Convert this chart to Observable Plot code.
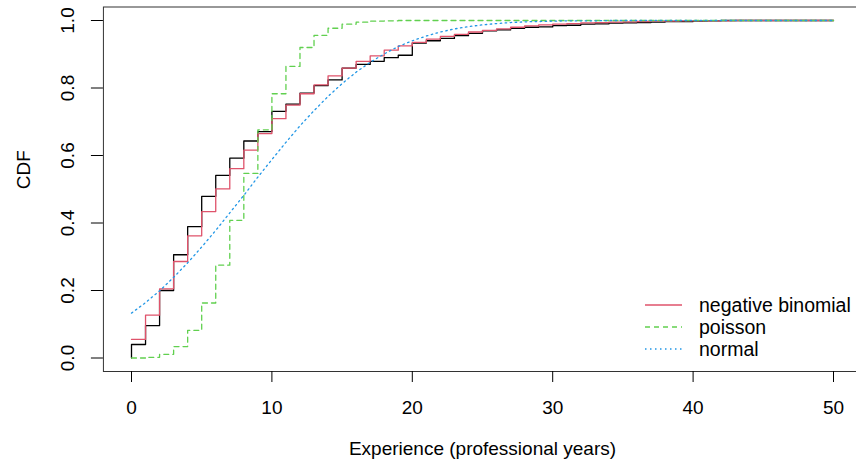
<!DOCTYPE html>
<html><head><meta charset="utf-8">
<script src="https://cdn.jsdelivr.net/npm/d3@7"></script>
<script src="https://cdn.jsdelivr.net/npm/@observablehq/plot@0.6"></script>
<style>
body{margin:0;background:#fff;overflow:hidden}
#chart{position:relative;width:856px;height:464px;overflow:hidden;background:#fff}
#chart svg{overflow:hidden}
#legend{position:absolute;left:0;top:0}
</style></head><body><div id="chart"></div>
<script>
// Experience in professional years (0..50)
const years = d3.range(0, 51);
// Empirical CDF (black steps); value left of the first jump is 0
const ecdfStart = 0;
const empirical = [0.040,0.096,0.200,0.306,0.389,0.479,0.541,0.592,0.643,0.671,
  0.731,0.752,0.785,0.807,0.824,0.859,0.870,0.879,0.890,0.897,
  0.933,0.940,0.947,0.955,0.962,0.969,0.972,0.977,0.980,0.981,
  0.985,0.986,0.989,0.990,0.992,0.993,0.994,0.995,0.997,0.997,
  0.998,0.999,1,1,1,1,1,1,1,1,1];
const negBinomial = [0.055,0.127,0.205,0.286,0.362,0.434,0.501,0.561,0.616,0.665,
  0.709,0.749,0.783,0.809,0.836,0.859,0.879,0.895,0.912,0.925,
  0.935,0.945,0.953,0.959,0.966,0.971,0.975,0.980,0.984,0.987,
  0.989,0.991,0.993,0.994,0.995,0.996,0.997,0.998,0.998,0.999,
  0.999,0.999,0.999,1,1,1,1,1,1,1,1];
const poisson = [0.000,0.002,0.011,0.034,0.082,0.163,0.275,0.408,0.547,0.676,
  0.783,0.864,0.920,0.956,0.977,0.989,0.995,0.998,0.999,1.000,
  1,1,1,1,1,1,1,1,1,1,
  1,1,1,1,1,1,1,1,1,1,
  1,1,1,1,1,1,1,1,1,1,1];
const normal = [0.133,0.164,0.199,0.239,0.282,0.329,0.378,0.430,0.482,0.536,
  0.588,0.639,0.688,0.733,0.775,0.813,0.847,0.876,0.901,0.923,
  0.940,0.954,0.966,0.975,0.982,0.987,0.991,0.994,0.996,0.997,
  0.998,0.999,0.999,0.999,1,1,1,1,1,1,
  1,1,1,1,1,1,1,1,1,1,1];

const xTicks = [0,10,20,30,40,50];
const yTicks = [0,0.2,0.4,0.6,0.8,1];
const yTickLabels = ["0.0","0.2","0.4","0.6","0.8","1.0"];
const xTitle = "Experience (professional years)";
const yTitle = "CDF";
const seriesNames = ["negative binomial","poisson","normal"];
const seriesColors = ["#DF536B","#61D04F","#2297E6"];
const seriesDash = [null,"5,4","1.5,3.5"];
const seriesCurve = ["step-after","step-after","linear"];

const FONT = "'Liberation Sans', Arial, Helvetica, sans-serif";

const blackData = [{x: years[0], y: ecdfStart}].concat(years.map((x,i)=>({x, y: empirical[i]})));
const toRows = arr => years.map((x,i)=>({x, y: arr[i]}));
const fitted = [negBinomial, poisson, normal];

const lineMarks = fitted.map((arr, k) => Plot.line(toRows(arr), {
  x: "x", y: "y", curve: seriesCurve[k],
  stroke: seriesColors[k], strokeWidth: 1.3,
  strokeDasharray: seriesDash[k] ?? undefined
}));

const plot = Plot.plot({
  width: 856, height: 464,
  marginLeft: 102.92, marginRight: -5.08, marginTop: 6.5, marginBottom: 93,
  style: {fontFamily: FONT, fontSize: "19px", color: "#000", background: "#fff", overflow: "hidden"},
  x: {domain: [-2, 52]},
  y: {domain: [-0.04, 1.04]},
  marks: [
    Plot.frame({stroke: "#333", strokeWidth: 1}),
    Plot.axisX({ticks: xTicks, tickSize: 11, tickPadding: 18, label: null, fontSize: 19}),
    Plot.axisY({ticks: yTicks, tickSize: 12, tickFormat: () => "", label: null}),
    Plot.text(yTicks, {y: d => d, text: (d,i) => yTickLabels[i], frameAnchor: "left", dx: -36,
      rotate: -90, textAnchor: "middle", lineAnchor: "middle", fontSize: 19}),
    Plot.text([xTitle], {text: d => d, frameAnchor: "bottom", dy: 77, lineAnchor: "middle", fontSize: 19}),
    Plot.text([yTitle], {text: d => d, frameAnchor: "left", dx: -80, rotate: -90, lineAnchor: "middle", fontSize: 19}),
    Plot.line(blackData, {x: "x", y: "y", curve: "step-after", stroke: "#000", strokeWidth: 1.3}),
    ...lineMarks
  ]
});
const chart = document.getElementById("chart");
chart.appendChild(plot);

// Legend (bottom right, no box)
const leg = d3.select(chart).append("svg").attr("id","legend")
  .attr("width", 856).attr("height", 464);
const rowY = [305, 327, 349];
seriesNames.forEach((name, k) => {
  const g = leg.append("g").attr("transform", `translate(0,${rowY[k]})`);
  g.append("line").attr("x1", 645).attr("x2", 682).attr("y1", 0).attr("y2", 0)
    .attr("stroke", seriesColors[k]).attr("stroke-width", 1.3)
    .attr("stroke-dasharray", seriesDash[k]);
  g.append("text").attr("x", 699).attr("y", 0).attr("dy", "0.35em")
    .attr("font-family", FONT).attr("font-size", 19.5).attr("fill", "#000").text(name);
});
</script></body></html>
